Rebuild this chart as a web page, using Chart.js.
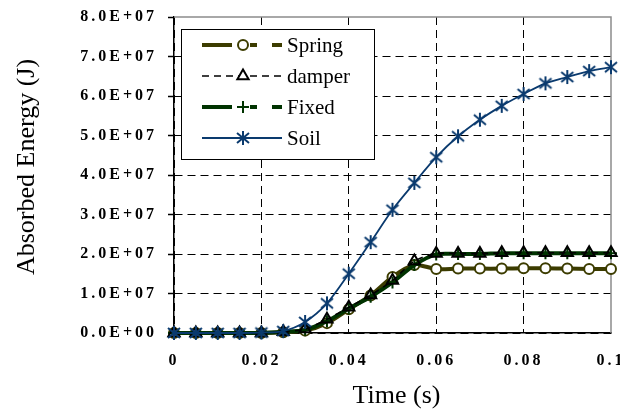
<!DOCTYPE html>
<html>
<head>
<meta charset="utf-8">
<script src="https://cdn.jsdelivr.net/npm/chart.js@4.4.1/dist/chart.umd.min.js"></script>
<style>
  html, body { margin: 0; padding: 0; background: #fff; }
  #chart { display: block; }
</style>
</head>
<body>
<canvas id="chart" width="620" height="410"></canvas>
<script>
// Time steps (s)
const times = [0, 0.005, 0.01, 0.015, 0.02, 0.025, 0.03, 0.035, 0.04, 0.045, 0.05,
               0.055, 0.06, 0.065, 0.07, 0.075, 0.08, 0.085, 0.09, 0.095, 0.1];

// Absorbed energy (J) per support model
const spring = [0, 0, 0, 0, 0, 2e5, 6e5, 2.5e6, 6.0e6, 9.5e6, 1.42e7,
                1.72e7, 1.62e7, 1.63e7, 1.63e7, 1.63e7, 1.64e7, 1.64e7, 1.63e7, 1.62e7, 1.62e7];
const damper = [0, 0, 0, 0, 0, 3e5, 1.0e6, 3.5e6, 6.5e6, 9.6e6, 1.33e7,
                1.82e7, 2.01e7, 2.01e7, 2.01e7, 2.03e7, 2.03e7, 2.03e7, 2.03e7, 2.03e7, 2.03e7];
const fixed  = [0, 0, 0, 0, 0, 3e5, 8e5, 3.0e6, 6.2e6, 9.2e6, 1.28e7,
                1.72e7, 1.99e7, 2.0e7, 2.0e7, 2.02e7, 2.02e7, 2.02e7, 2.02e7, 2.02e7, 2.02e7];
const soil   = [0, 0, 0, 0, 1e5, 5e5, 2.8e6, 7.5e6, 1.5e7, 2.3e7, 3.12e7,
                3.8e7, 4.45e7, 4.98e7, 5.4e7, 5.75e7, 6.05e7, 6.32e7, 6.48e7, 6.63e7, 6.73e7];

const xTickLabels = ['0', '0.02', '0.04', '0.06', '0.08', '0.1'];
const yTickLabels = ['0.0E+00', '1.0E+07', '2.0E+07', '3.0E+07', '4.0E+07',
                     '5.0E+07', '6.0E+07', '7.0E+07', '8.0E+07'];

const toPoints = vals => vals.map((v, i) => ({ x: times[i], y: v }));

const SERIF = '"Liberation Serif", "Times New Roman", serif';

// six-spoke asterisk marker like the spreadsheet one
function asteriskMarker(color) {
  const c = document.createElement('canvas');
  c.width = 16;
  c.height = 16;
  const g = c.getContext('2d');
  g.strokeStyle = color;
  g.lineWidth = 2;
  g.lineCap = 'butt';
  g.beginPath();
  g.moveTo(8, 1); g.lineTo(8, 15);
  g.moveTo(2, 3); g.lineTo(14, 13);
  g.moveTo(14, 3); g.lineTo(2, 13);
  g.stroke();
  return c;
}
const soilMarker = asteriskMarker('#0a3a6e');

// Frame (grey top/right), axis titles and boxed legend inside the plot
const decorations = {
  id: 'decorations',
  beforeDraw(chart) {
    // wide bold tick labels like the original
    chart.ctx.letterSpacing = '3px';
  },
  beforeDatasetsDraw(chart) {
    const { ctx, chartArea: a } = chart;
    ctx.save();
    ctx.strokeStyle = '#8c8c8c';
    ctx.lineWidth = 1.5;
    ctx.beginPath();
    ctx.moveTo(a.left, a.top);
    ctx.lineTo(a.right, a.top);
    ctx.lineTo(a.right, a.bottom);
    ctx.stroke();
    ctx.restore();
  },
  afterDraw(chart) {
    const { ctx, chartArea: a } = chart;
    ctx.letterSpacing = '0px';
    ctx.save();

    // axis titles
    ctx.fillStyle = '#000';
    ctx.font = '26px ' + SERIF;
    ctx.textAlign = 'center';
    ctx.textBaseline = 'middle';
    ctx.fillText('Time (s)', (a.left + a.right) / 2 + 4, 396);
    ctx.save();
    ctx.translate(27, 167);
    ctx.rotate(-Math.PI / 2);
    ctx.fillText('Absorbed Energy (J)', 0, 0);
    ctx.restore();

    // legend box
    ctx.fillStyle = '#fff';
    ctx.fillRect(181, 29, 193, 130);
    ctx.strokeStyle = '#000';
    ctx.lineWidth = 1;
    ctx.strokeRect(181.5, 29.5, 193, 130);

    const rowsY = [45, 76, 107, 138];
    chart.data.datasets.forEach((ds, i) => {
      const y = rowsY[i];
      ctx.save();
      ctx.beginPath();
      ctx.rect(202, y - 10, 80, 20);
      ctx.clip();
      ctx.strokeStyle = ds.borderColor;
      ctx.lineWidth = ds.borderWidth;
      ctx.setLineDash(ds.legendDash);
      ctx.beginPath();
      ctx.moveTo(202, y);
      ctx.lineTo(282, y);
      ctx.stroke();
      ctx.restore();

      ctx.save();
      ctx.strokeStyle = ds.pointBorderColor;
      ctx.fillStyle = '#fff';
      ctx.lineWidth = ds.pointBorderWidth;
      Chart.helpers.drawPoint(ctx, {
        pointStyle: ds.pointStyle,
        radius: ds.pointRadius,
        borderWidth: ds.pointBorderWidth,
        rotation: 0
      }, 243, y);
      ctx.restore();

      ctx.fillStyle = '#000';
      ctx.font = '21px ' + SERIF;
      ctx.textAlign = 'left';
      ctx.textBaseline = 'middle';
      ctx.fillText(ds.label, 287, y + 1);
    });
    ctx.restore();
  }
};

new Chart(document.getElementById('chart'), {
  type: 'line',
  data: {
    datasets: [
      {
        label: 'Spring',
        data: toPoints(spring),
        borderColor: '#3c3c00',
        borderWidth: 4,
        pointStyle: 'circle',
        pointRadius: 5,
        pointBorderColor: '#3c3c00',
        pointBackgroundColor: '#fff',
        pointBorderWidth: 2,
        legendDash: [30, 18, 7, 15],
        order: 4
      },
      {
        label: 'damper',
        data: toPoints(damper),
        borderColor: '#000',
        borderWidth: 1.6,
        borderDash: [6, 5],
        pointStyle: 'triangle',
        pointRadius: 6.5,
        pointBorderColor: '#000',
        pointBackgroundColor: 'rgba(255,255,255,0)',
        pointBorderWidth: 2,
        legendDash: [7, 5],
        order: 2
      },
      {
        label: 'Fixed',
        data: toPoints(fixed),
        borderColor: '#003300',
        borderWidth: 4,
        pointStyle: 'cross',
        pointRadius: 6,
        pointBorderColor: '#003300',
        pointBorderWidth: 2,
        legendDash: [30, 18, 7, 15],
        order: 3
      },
      {
        label: 'Soil',
        data: toPoints(soil),
        borderColor: '#0a3a6e',
        borderWidth: 1.8,
        pointStyle: soilMarker,
        pointRadius: 7,
        pointBorderColor: '#0a3a6e',
        pointBorderWidth: 2,
        legendDash: [],
        order: 1
      }
    ]
  },
  options: {
    responsive: false,
    animation: false,
    devicePixelRatio: 1,
    clip: false,
    elements: {
      line: { tension: 0.3, fill: false }
    },
    layout: { padding: { left: 0, right: 8, top: 17, bottom: 0 } },
    plugins: {
      legend: { display: false },
      tooltip: { enabled: false }
    },
    scales: {
      x: {
        type: 'linear',
        min: 0,
        max: 0.1,
        afterFit(scale) {
          scale.height = 77;
          scale.paddingLeft = 0;
          scale.paddingRight = 0;
        },
        ticks: {
          stepSize: 0.02,
          color: '#000',
          padding: 18,
          maxRotation: 0,
          font: { family: SERIF, size: 16, weight: 'bold' },
          callback: (v, i) => xTickLabels[i]
        },
        grid: {
          drawTicks: false,
          color: ctx => (ctx.tick && ctx.tick.value > 0.099) ? 'rgba(0,0,0,0)' : '#000',
          lineWidth: 1
        },
        border: { display: true, color: '#000', width: 1.5, dash: [8, 5] }
      },
      y: {
        min: 0,
        max: 8e7,
        afterFit(scale) {
          scale.width = 174;
          scale.paddingTop = 0;
          scale.paddingBottom = 0;
        },
        ticks: {
          stepSize: 1e7,
          color: '#000',
          padding: 11,
          font: { family: SERIF, size: 16, weight: 'bold' },
          callback: (v, i) => yTickLabels[i]
        },
        grid: {
          tickLength: 6,
          tickColor: '#000',
          tickWidth: 1.5,
          tickBorderDash: [],
          color: ctx => (ctx.tick && ctx.tick.value >= 8e7) ? 'rgba(0,0,0,0)' : '#000',
          lineWidth: 1
        },
        border: { display: true, color: '#000', width: 1.5, dash: [8, 5] }
      }
    }
  },
  plugins: [decorations]
});
</script>
</body>
</html>
